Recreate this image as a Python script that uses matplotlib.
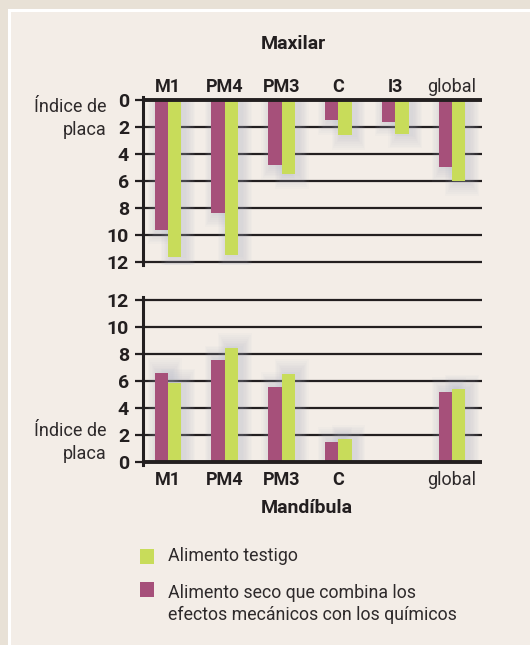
import numpy as np
import matplotlib
matplotlib.use('Agg')
import matplotlib.pyplot as plt
from matplotlib.patches import Rectangle

plt.rcParams['font.family'] = ['Roboto', 'DejaVu Sans']

# Índice de placa por diente
cats_max = ['M1', 'PM4', 'PM3', 'C', 'I3', 'global']
max_seco = [9.6, 8.35, 4.85, 1.5, 1.6, 5.0]
max_testigo = [11.6, 11.5, 5.5, 2.6, 2.5, 6.0]

cats_man = ['M1', 'PM4', 'PM3', 'C', '', 'global']
man_seco = [6.6, 7.55, 5.6, 1.5, np.nan, 5.2]
man_testigo = [5.85, 8.45, 6.55, 1.7, np.nan, 5.4]

yticks = [0, 2, 4, 6, 8, 10, 12]

MAGENTA = '#a6507a'
GREEN = '#c8dc5a'
INK = '#231f20'
TXT = '#2e2a2b'
W, H = 530, 645

def px(x0, y0, x1, y1):
    # pixel box (top-left origin) -> figure fraction rect
    return [x0 / W, 1 - y1 / H, (x1 - x0) / W, (y1 - y0) / H]

fig = plt.figure(figsize=(W / 100, H / 100), dpi=100)
fig.patch.set_facecolor('#e8e1d6')
fig.add_artist(Rectangle((9 / W, -0.01), 1.0, 1.01 - 10 / H, transform=fig.transFigure,
                         facecolor='#f3ede7', edgecolor='white', lw=2.2, zorder=0))

bw = 0.237
pos = np.arange(len(cats_max))


def draw_panel(ax, seco, testigo, cats, top):
    ax.set_facecolor('none')
    ax.set_xlim(-0.44, 5.528)
    if top:
        ax.set_ylim(12.2, -0.2)
    else:
        ax.set_ylim(-0.2, 12.2)
    for s in ['top', 'right', 'bottom']:
        ax.spines[s].set_visible(False)
    ax.spines['left'].set_linewidth(2.2)
    ax.spines['left'].set_color(INK)

    for v in yticks:
        ax.axhline(v, color=INK, lw=2.8 if v == 0 else 1.6, zorder=4 if v == 0 else 1)

    # soft shadow behind the bars
    for k in range(1, 9):
        grow = k * 0.045
        for vals, off in [(seco, -bw / 2), (testigo, bw / 2)]:
            h = np.array(vals) + grow * 3
            ax.bar(pos + off + 0.06, h, width=bw + grow, color='#a9afc4',
                   alpha=0.045, lw=0, zorder=1.5)

    ax.bar(pos - bw / 2, seco, width=bw, color=MAGENTA, lw=0, zorder=3)
    ax.bar(pos + bw / 2, testigo, width=bw, color=GREEN, lw=0, zorder=3)

    ax.set_yticks(yticks)
    ax.set_yticklabels([str(t) for t in yticks], fontsize=14, fontweight='bold', color=INK)
    ax.tick_params(axis='y', direction='out', length=6, width=1.6, color=INK, pad=4)

    if top:
        ax.xaxis.tick_top()
    ax.set_xticks(pos)
    ax.set_xticklabels(cats, fontsize=13, color=INK)
    ax.tick_params(axis='x', length=0, pad=1 if top else 4)
    for lbl in ax.get_xticklabels():
        lbl.set_fontweight('normal' if lbl.get_text() == 'global' else 'bold')
        if lbl.get_text() == 'global':
            lbl.set_color(TXT)


# Maxilar (eje invertido)
ax1 = fig.add_axes(px(143, 97.3, 482, 264.7))
draw_panel(ax1, max_seco, max_testigo, cats_max, top=True)

# Mandíbula
ax2 = fig.add_axes(px(143, 297.3, 482, 465))
draw_panel(ax2, man_seco, man_testigo, cats_man, top=False)

def ftext(x, y, s, **kw):
    fig.text(x / W, 1 - y / H, s, **kw)

ftext(293, 49, 'Maxilar', fontsize=14, fontweight='bold', ha='center', va='baseline', color=INK)
ftext(307, 513, 'Mandíbula', fontsize=14, fontweight='bold', ha='center', va='baseline', color=INK)

for yb in [(112, 135), (436, 459)]:
    ftext(107, yb[0], 'Índice de', fontsize=13, ha='right', va='baseline', color=TXT)
    ftext(107, yb[1], 'placa', fontsize=13, ha='right', va='baseline', color=TXT)

# leyenda
fig.add_artist(Rectangle((140 / W, 1 - 564 / H), 14 / W, 15 / H, transform=fig.transFigure,
                         facecolor=GREEN, lw=0))
fig.add_artist(Rectangle((140 / W, 1 - 597 / H), 14 / W, 15 / H, transform=fig.transFigure,
                         facecolor=MAGENTA, lw=0))
ftext(168, 561, 'Alimento testigo', fontsize=12.8, ha='left', va='baseline', color=TXT)
ftext(168, 598, 'Alimento seco que combina los', fontsize=12.8, ha='left', va='baseline', color=TXT)
ftext(168, 620, 'efectos mecánicos con los químicos', fontsize=12.8, ha='left', va='baseline', color=TXT)

plt.savefig('out.png', dpi=100, facecolor=fig.get_facecolor())
